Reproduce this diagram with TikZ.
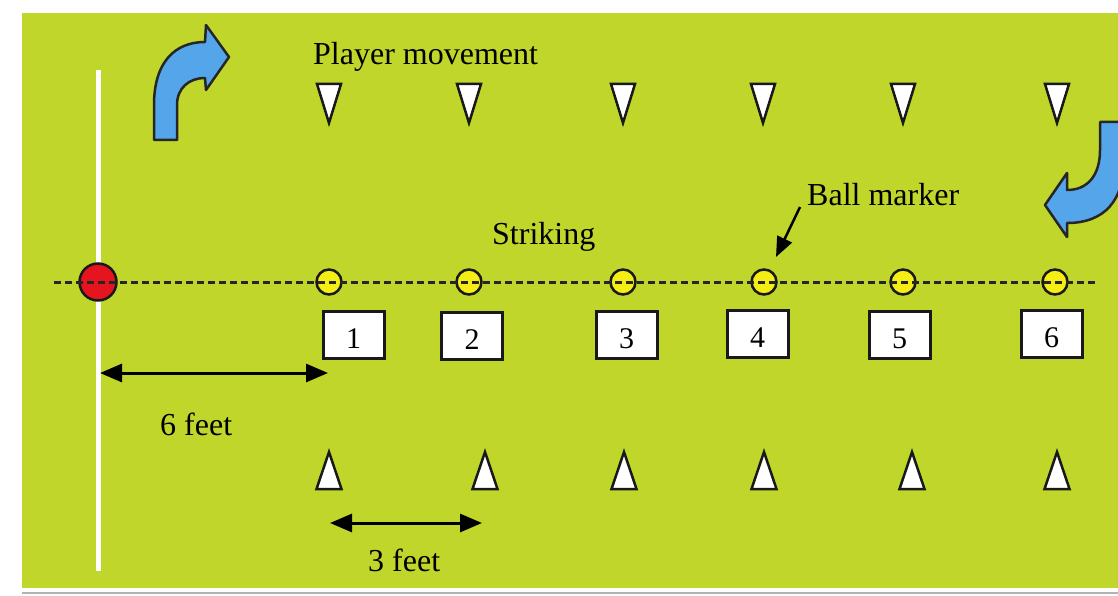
\documentclass[tikz,border=0pt]{standalone}
\usepackage{fontspec}
\setmainfont{Liberation Serif}
\usetikzlibrary{arrows.meta}
\definecolor{field}{RGB}{192,214,42}
\definecolor{ballred}{RGB}{230,20,30}
\definecolor{ballyellow}{RGB}{245,238,20}
\definecolor{turnblue}{RGB}{85,165,235}
\begin{document}
\begin{tikzpicture}[x=1pt,y=-1pt,
  lbl/.style={inner sep=0pt, anchor=base west, font=\fontsize{32}{38}\selectfont},
  numbox/.style={draw=black!90, line width=3pt, fill=white, minimum width=61pt, minimum height=47pt, inner sep=0pt, font=\fontsize{30}{36}\selectfont},
  ball/.style={circle, draw=black!90, line width=2.5pt, fill=ballyellow, minimum size=25pt, inner sep=0pt},
  cone/.style={draw=black!90, line width=2.5pt, fill=white, line join=miter},
  dimarrow/.style={line width=3pt, {Triangle[length=22pt,width=18pt]}-{Triangle[length=22pt,width=18pt]}},
  turn/.style={draw=black!85, line width=2.5pt, fill=turnblue, line join=round},
  dashline/.style={line width=3pt, dash pattern=on 7pt off 4pt, black!85}
]
\useasboundingbox (0,0) rectangle (1118,596);
\clip (0,0) rectangle (1118,596);
\fill[white] (0,0) rectangle (1118,596);
\fill[field] (22,13) rectangle (1118,588);
\draw[gray!60, line width=2pt] (22,593) -- (1118,593);
\draw[white, line width=5pt] (98,70) -- (98,571);

% turning arrows
\draw[turn] (154,140) -- (154,105) .. controls (154,62) and (175,42) .. (205,42)
  -- (206,25) -- (229,57) -- (206,90) -- (205,78)
  .. controls (189,78) and (177,88) .. (177,105) -- (177,140) -- cycle;
\draw[turn] (1100,122) -- (1100,150) .. controls (1100,175) and (1088,190) .. (1067,190)
  -- (1067,173) -- (1045,205) -- (1067,237) -- (1067,223)
  .. controls (1105,223) and (1124,200) .. (1124,160) -- (1124,122) -- cycle;

% cones
\foreach \x in {329,469,623,763,903,1057}
  \draw[cone] (\x-12,84) -- (\x+12,84) -- (\x,123) -- cycle;
\foreach \x in {329,485,624,764,912,1057}
  \draw[cone] (\x-12.5,489) -- (\x+12.5,489) -- (\x,452) -- cycle;

% balls
\node[ball, fill=ballred, minimum size=37pt] (r) at (98,282) {};
\node[ball] (c1) at (329,282) {};
\node[ball] (c2) at (469,282) {};
\node[ball] (c3) at (623,282) {};
\node[ball] (c4) at (764,282) {};
\node[ball] (c5) at (903,282) {};
\node[ball] (c6) at (1055,282) {};
\coordinate (dl) at (54,282);
\coordinate (dr) at (1095,282);
\draw[dashline] (dl) -- (dr);

% stations
\node[numbox] (b1) at (353.5,334.5) {\raisebox{-4pt}[\height][0pt]{1}};
\node[numbox] (b2) at (472,335.5) {\raisebox{-4pt}[\height][0pt]{2}};
\node[numbox] (b3) at (626.5,334.5) {\raisebox{-4pt}[\height][0pt]{3}};
\node[numbox] (b4) at (757.5,333.5) {\raisebox{-4pt}[\height][0pt]{4}};
\node[numbox] (b5) at (899.5,334.5) {\raisebox{-4pt}[\height][0pt]{5}};
\node[numbox] (b6) at (1051.5,333.5) {\raisebox{-4pt}[\height][0pt]{6}};

% labels
\node[lbl] (pm) at (313,65) {Player movement};
\node[lbl] (st) at (492,244) {Striking};
\node[lbl] (bm) at (807,205) {Ball marker};
\node[lbl] (f6) at (160,435) {6 feet};
\node[lbl] (f3) at (368,571) {3 feet};

% dimension arrows
\coordinate (s6a) at (100,373);
\coordinate (s6b) at (328,373);
\draw[dimarrow] (s6a) -- (s6b);
\coordinate (s3a) at (330,523);
\coordinate (s3b) at (482,523);
\draw[dimarrow] (s3a) -- (s3b);

% ball marker pointer
\coordinate (bmtail) at (800,207);
\draw[line width=2.5pt, -{Triangle[length=20pt,width=16pt]}, shorten >=14pt] (bmtail) -- (c4);
\end{tikzpicture}
\end{document}
